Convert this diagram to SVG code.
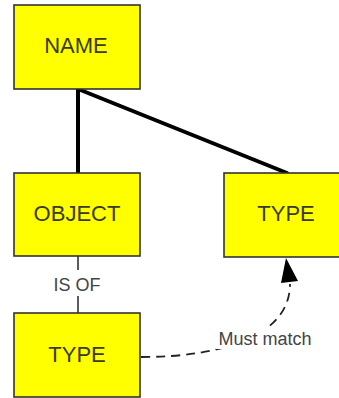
<svg xmlns="http://www.w3.org/2000/svg" width="339" height="398" viewBox="0 0 339 398">
<defs>
<style>
.box{fill:#ffff00;stroke:#333;stroke-width:1.6}
.t{font-family:"Liberation Sans",Arial,sans-serif;font-size:22px;fill:#3a3a20;text-anchor:middle}
.lbl{font-family:"Liberation Sans",Arial,sans-serif;font-size:18px;fill:#444;text-anchor:middle}
.thick{stroke:#000;stroke-width:4;fill:none;stroke-linecap:round}
.thin{stroke:#333;stroke-width:1.6;fill:none}
.dash{stroke:#222;stroke-width:1.8;fill:none;stroke-dasharray:9 6}
</style>
<marker id="arr" viewBox="0 0 10 10" refX="9" refY="5" markerWidth="9" markerHeight="12" markerUnits="userSpaceOnUse" orient="auto" overflow="visible">
<path d="M0,0 L10,5 L0,10 z" fill="#000"/>
</marker>
</defs>
<rect width="339" height="398" fill="#fff"/>
<g id="connectors">
<line class="thick" x1="78" y1="89" x2="78" y2="173"/>
<line class="thick" x1="78" y1="89" x2="287" y2="173"/>
<line class="thin" x1="78" y1="256" x2="78" y2="270"/>
<line class="thin" x1="78" y1="296" x2="78" y2="313"/>
<path class="dash" d="M141,357 C 225,357 290,335 290,284"/>
<polygon points="286,258 281,283 298,281" fill="#000"/>
<rect x="216" y="328" width="98" height="21" fill="#fff"/>
<text class="lbl" x="265" y="345">Must match</text>
<text class="lbl" x="77" y="291">IS OF</text>
</g>
<g id="name">
<rect class="box" x="14" y="5" width="126" height="84"/>
<text class="t" x="76" y="53">NAME</text>
</g>
<g id="object">
<rect class="box" x="14" y="173" width="126" height="83"/>
<text class="t" x="77" y="221">OBJECT</text>
</g>
<g id="type-right">
<rect class="box" x="224" y="173" width="120" height="84"/>
<text class="t" x="286" y="221">TYPE</text>
</g>
<g id="type-bottom">
<rect class="box" x="14" y="313" width="126" height="84"/>
<text class="t" x="77" y="362">TYPE</text>
</g>
</svg>
